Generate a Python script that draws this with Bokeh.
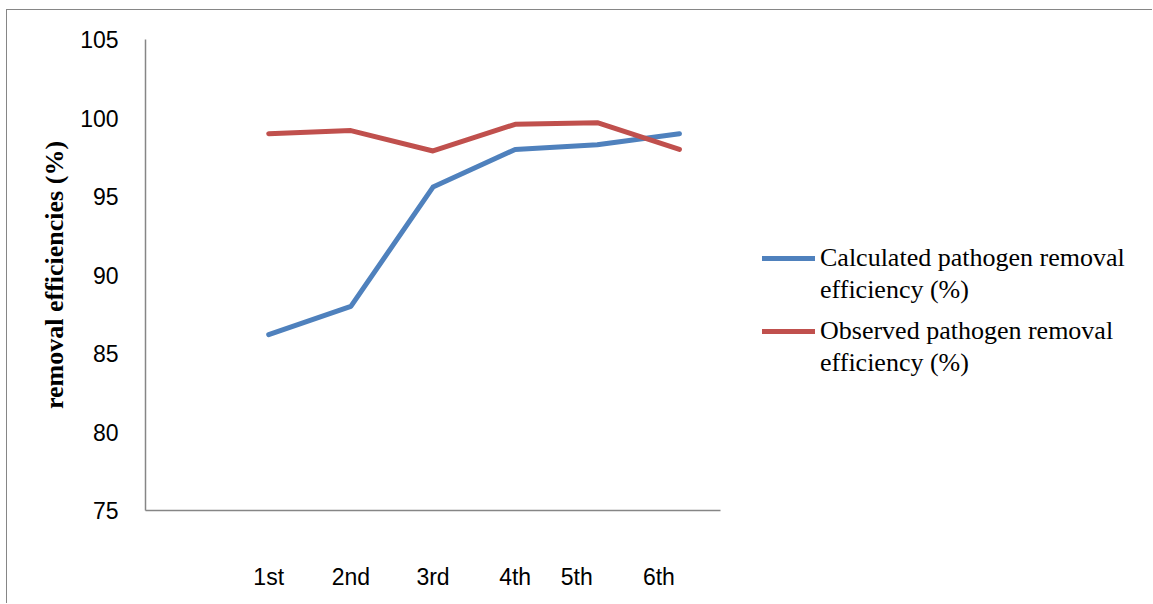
from bokeh.plotting import figure
from bokeh.models import Range1d, FixedTicker, Legend, LegendItem
from bokeh.embed import file_html
from bokeh.resources import INLINE

# Treatment stages and removal efficiencies (%)
stages = ["1st", "2nd", "3rd", "4th", "5th", "6th"]
stage_x = [1, 2, 3, 4, 5, 6]
calculated = [86.2, 88.0, 95.6, 98.0, 98.3, 99.0]
observed = [99.0, 99.2, 97.9, 99.6, 99.7, 98.0]
y_ticks = [75, 80, 85, 90, 95, 100, 105]

# where the stage names sit along the bottom axis
label_x = [1, 2, 3, 4, 4.75, 5.75]

BLUE = "#4F81BD"
RED = "#C0504D"
AXIS = "#868686"

# the chart area is framed on its top and left edges
OFF_X, OFF_Y = 7, 10
W, H = 1153 - OFF_X, 604 - OFF_Y
LEFT, TOP, BOTTOM = 145 - OFF_X, 39 - OFF_Y, 94
AXIS_PX = 575                    # drawn length of the horizontal axis
X0, X1 = -0.5, 6.5               # stage slots covered by that axis
x_end = X0 + (X1 - X0) * (W - LEFT) / AXIS_PX

p = figure(width=W, height=H, output_backend="svg", toolbar_location=None,
           x_range=Range1d(X0, x_end), y_range=Range1d(75, 105),
           min_border_left=LEFT, min_border_right=0,
           min_border_top=TOP, min_border_bottom=BOTTOM)
p.styles = {"margin-left": "6px", "margin-top": "9px",
            "border-left": f"1.5px solid {AXIS}",
            "border-top": f"1.5px solid {AXIS}"}
p.outline_line_color = None
p.background_fill_color = "white"
p.border_fill_color = "white"
p.xgrid.visible = False
p.ygrid.visible = False

# axes
p.yaxis.ticker = FixedTicker(ticks=y_ticks)
p.yaxis.axis_line_color = AXIS
p.yaxis.axis_line_width = 1.5
p.yaxis.major_tick_line_color = None
p.yaxis.minor_tick_line_color = None
p.yaxis.major_label_standoff = 21
p.yaxis.major_label_text_font = "Liberation Sans"
p.yaxis.major_label_text_font_size = "23px"
p.yaxis.major_label_text_color = "black"
p.yaxis.axis_label = "removal efficiencies (%)"
p.yaxis.axis_label_text_font = "Liberation Serif"
p.yaxis.axis_label_text_font_style = "bold"
p.yaxis.axis_label_text_font_size = "26px"
p.yaxis.axis_label_text_color = "black"
p.yaxis.axis_label_standoff = 8

p.xaxis.bounds = (X0, X1)
p.xaxis.ticker = FixedTicker(ticks=label_x)
p.xaxis.major_label_overrides = {x: s for x, s in zip(label_x, stages)}
p.xaxis.axis_line_color = AXIS
p.xaxis.axis_line_width = 1.5
p.xaxis.major_tick_line_color = None
p.xaxis.minor_tick_line_color = None
p.xaxis.major_label_standoff = 47
p.xaxis.major_label_text_font = "Liberation Sans"
p.xaxis.major_label_text_font_size = "23px"
p.xaxis.major_label_text_color = "black"

# series
r_calc = p.line(stage_x, calculated, line_color=BLUE, line_width=5,
                line_join="round", line_cap="round")
r_obs = p.line(stage_x, observed, line_color=RED, line_width=5,
               line_join="round", line_cap="round")
# invisible stand-in so a second legend row carries only text
blank = p.line([], [], line_alpha=0)


def add_legend(name, renderer, y):
    lg = Legend(items=[LegendItem(label=f"{name} pathogen removal", renderers=[renderer]),
                       LegendItem(label="efficiency (%)", renderers=[blank])],
                location=(617, y), orientation="vertical",
                padding=0, margin=0, spacing=0,
                glyph_width=53, glyph_height=32, label_height=32,
                label_standoff=5,
                label_text_font="Liberation Serif", label_text_font_size="26px",
                label_text_color="black",
                border_line_color=None, background_fill_alpha=0)
    p.add_layout(lg)


add_legend("Calculated", r_calc, 204)
add_legend("Observed", r_obs, 131)

open("out.html", "w").write(file_html(p, INLINE))
